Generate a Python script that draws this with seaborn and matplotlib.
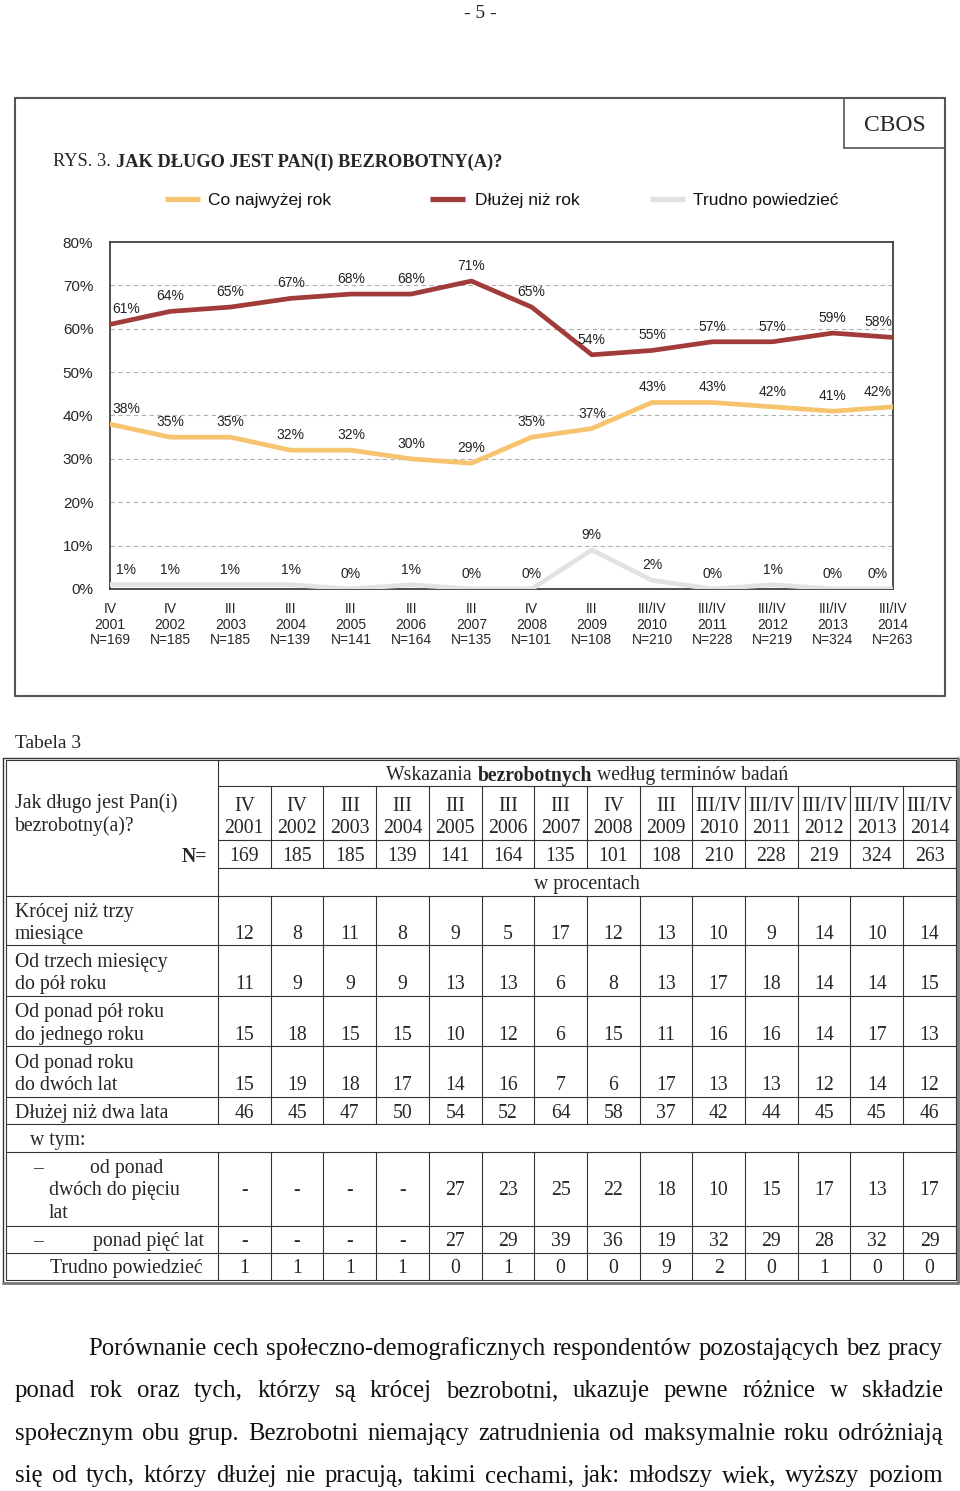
import numpy as np
import pandas as pd
import seaborn as sns
import matplotlib
matplotlib.use("Agg")
import matplotlib.pyplot as plt
from matplotlib.lines import Line2D

# ---- chart data (RYS. 3) ----
periods = ["IV", "IV", "III", "III", "III", "III", "III", "IV", "III",
           "III/IV", "III/IV", "III/IV", "III/IV", "III/IV"]
years = ["2001", "2002", "2003", "2004", "2005", "2006", "2007",
         "2008", "2009", "2010", "2011", "2012", "2013", "2014"]
n_sizes = [169, 185, 185, 139, 141, 164, 135, 101, 108, 210, 228, 219, 324, 263]
short_term = [38, 35, 35, 32, 32, 30, 29, 35, 37, 43, 43, 42, 41, 42]
long_term = [61, 64, 65, 67, 68, 68, 71, 65, 54, 55, 57, 57, 59, 58]
dont_know = [1, 1, 1, 1, 0, 1, 0, 0, 9, 2, 0, 1, 0, 0]
series_names = ["Co najwyżej rok", "Dłużej niż rok", "Trudno powiedzieć"]
series_colors = ["#F6C46E", "#A23C3A", "#E2E2E2"]

# ---- table data (Tabela 3) ----
row_labels = [
    ["Krócej niż trzy", "miesiące"],
    ["Od trzech miesięcy", "do pół roku"],
    ["Od ponad pół roku", "do jednego roku"],
    ["Od ponad roku", "do dwóch lat"],
    ["Dłużej niż dwa lata"],
]
t_under3m = [12, 8, 11, 8, 9, 5, 17, 12, 13, 10, 9, 14, 10, 14]
t_3to6m = [11, 9, 9, 9, 13, 13, 6, 8, 13, 17, 18, 14, 14, 15]
t_6to12m = [15, 18, 15, 15, 10, 12, 6, 15, 11, 16, 16, 14, 17, 13]
t_1to2y = [15, 19, 18, 17, 14, 16, 7, 6, 17, 13, 13, 12, 14, 12]
t_over2y = [46, 45, 47, 50, 54, 52, 64, 58, 37, 42, 44, 45, 45, 46]
t_2to5y = ["-", "-", "-", "-", 27, 23, 25, 22, 18, 10, 15, 17, 13, 17]
t_over5y = ["-", "-", "-", "-", 27, 29, 39, 36, 19, 32, 29, 28, 32, 29]
t_dontknow = [1, 1, 1, 1, 0, 1, 0, 0, 9, 2, 0, 1, 0, 0]

paragraph = [
    "Porównanie cech społeczno-demograficznych respondentów pozostających bez pracy",
    "ponad rok oraz tych, którzy są krócej bezrobotni, ukazuje pewne różnice w składzie",
    "społecznym obu grup. Bezrobotni niemający zatrudnienia od maksymalnie roku odróżniają",
    "się od tych, którzy dłużej nie pracują, takimi cechami, jak: młodszy wiek, wyższy poziom",
]

sns.set_style("white")
SANS = ["Liberation Sans Narrow", "Liberation Sans", "DejaVu Sans"]
SERIF = ["Liberation Serif", "DejaVu Serif"]
plt.rcParams["font.family"] = SANS

W, H = 960, 1491
fig = plt.figure(figsize=(9.6, 14.91), dpi=100)
renderer = fig.canvas.get_renderer()


def text(x, y, s, **kw):
    kw.setdefault("va", "center_baseline")
    return fig.text(x / W, 1 - y / H, s, **kw)


def hline(x0, x1, y, lw=0.8, color="#333333"):
    fig.add_artist(Line2D([x0 / W, x1 / W], [1 - y / H] * 2, lw=lw, color=color))


def vline(x, y0, y1, lw=0.8, color="#333333"):
    fig.add_artist(Line2D([x / W] * 2, [1 - y0 / H, 1 - y1 / H], lw=lw, color=color))


def measure(s, **kw):
    t = fig.text(0, 0, s, **kw)
    w = t.get_window_extent(renderer).width
    t.remove()
    return w


def rich(x, y, parts, ha="left", **kw):
    gap = measure("a a", **kw) - measure("aa", **kw)
    widths = [measure(s, fontweight=fw, **kw) for s, fw in parts]
    total = sum(widths) + gap * (len(parts) - 1)
    cx = x - total / 2 if ha == "center" else x
    for (s, fw), w in zip(parts, widths):
        text(cx, y, s, fontweight=fw, ha="left", **kw)
        cx += w + gap


# ---- page number ----
text(480, 11, "- 5 -", family=SERIF, fontsize=14, ha="center")

# ---- chart frame ----
box_c = "#555555"
hline(15, 945, 98, lw=1.5, color=box_c)
hline(15, 945, 696, lw=1.5, color=box_c)
vline(15, 98, 696, lw=1.5, color=box_c)
vline(945, 98, 696, lw=1.5, color=box_c)
vline(844, 98, 148, lw=1.2, color=box_c)
hline(844, 945, 148, lw=1.2, color=box_c)
text(895, 123, "CBOS", family=SERIF, fontsize=17, ha="center")

rich(53, 160, [("RYS. 3.", "normal"), ("JAK DŁUGO JEST PAN(I) BEZROBOTNY(A)?", "bold")],
     family=SERIF, fontsize=13.2)

# legend
for (x0, xt), name, col in zip([(165, 208), (430, 475), (650, 693)], series_names, series_colors):
    fig.add_artist(Line2D([x0 / W, (x0 + 35) / W], [1 - 199 / H] * 2, lw=3.8,
                          color=col, solid_capstyle="butt"))
    text(xt, 199, name, fontsize=12.5, ha="left", color="#111111")

# ---- line chart ----
ax = fig.add_axes([110 / W, 1 - 589 / H, 783 / W, 347 / H])
df = pd.DataFrame({
    "idx": list(range(len(years))) * 3,
    "value": short_term + long_term + dont_know,
    "series": sum([[s] * len(years) for s in series_names], []),
})
sns.lineplot(data=df, x="idx", y="value", hue="series", hue_order=series_names[::-1],
             palette=dict(zip(series_names, series_colors)), linewidth=3.4,
             legend=False, ax=ax, zorder=3)
ax.set_xlim(0, len(years) - 1)
ax.set_ylim(0, 80)
for v in range(10, 80, 10):
    ax.axhline(v, ls=(0, (4, 3)), color="#B0B0B0", lw=0.8, zorder=1)
ax.set_yticks(range(0, 81, 10))
ax.set_yticklabels([f"{v}%" for v in range(0, 81, 10)], fontsize=11)
ax.set_xticks(range(len(years)))
ax.set_xticklabels([f"{p}\n{y}\nN={n}" for p, y, n in zip(periods, years, n_sizes)],
                   fontsize=10, linespacing=1.12)
ax.tick_params(axis="y", length=0, pad=12)
ax.tick_params(axis="x", length=0, pad=9.5)
ax.set_xlabel("")
ax.set_ylabel("")
for sp in ax.spines.values():
    sp.set_color("#404040")
    sp.set_linewidth(1.3)

last = len(years) - 1
for vals in (long_term, short_term, dont_know):
    for i, v in enumerate(vals):
        dx = 16 if i == 0 else (-15 if i == last else 0)
        ax.annotate(f"{v}%", (i, v), xytext=(dx, 15), textcoords="offset pixels",
                    ha="center", va="center", fontsize=10, color="#222222")

# ---- table ----
text(15, 741, "Tabela 3", family=SERIF, fontsize=14, ha="left")
TFS = 14.2
col0, col_w = 218, 52.7
right = col0 + col_w * len(years)
cx = [col0 + (k + 0.5) * col_w for k in range(len(years))]

# borders
hline(2.5, right + 2, 757.5, lw=1.0)
vline(2.5, 757.5, 1282.5, lw=1.0)
hline(2.5, right + 2, 1282.5, lw=2.0, color="#777777")
vline(right + 2, 757.5, 1282.5, lw=2.0, color="#777777")
hline(5.5, right, 760.5, lw=0.8)
hline(5.5, right, 1279.5, lw=0.8)
vline(5.5, 760.5, 1279.5, lw=0.8)
vline(right, 760.5, 1279.5, lw=0.8)

for y in (786, 840, 868):
    hline(col0, right, y)
for y in (896, 945, 996, 1046, 1097, 1124, 1152, 1226, 1253):
    hline(5.5, right, y)
vline(col0, 760.5, 1124)
vline(col0, 1152, 1279.5)
for k in range(1, len(years)):
    x = col0 + k * col_w
    vline(x, 786, 868)
    vline(x, 896, 1124)
    vline(x, 1152, 1279.5)

rich((col0 + right) / 2, 773,
     [("Wskazania", "normal"), ("bezrobotnych", "bold"), ("według terminów badań", "normal")],
     ha="center", family=SERIF, fontsize=TFS)
text((col0 + right) / 2, 882, "w procentach", family=SERIF, fontsize=TFS, ha="center")
text(15, 801, "Jak długo jest Pan(i)", family=SERIF, fontsize=TFS, ha="left")
text(15, 824, "bezrobotny(a)?", family=SERIF, fontsize=TFS, ha="left")
text(207, 854, "N=", family=SERIF, fontsize=TFS, ha="right", fontweight="bold")

for k in range(len(years)):
    text(cx[k], 804, periods[k], family=SERIF, fontsize=TFS, ha="center")
    text(cx[k], 826, years[k], family=SERIF, fontsize=TFS, ha="center")
    text(cx[k], 854, str(n_sizes[k]), family=SERIF, fontsize=TFS, ha="center")

row_vals = [t_under3m, t_3to6m, t_6to12m, t_1to2y, t_over2y]
row_ys = [(910, 932), (960, 982), (1010, 1033), (1061, 1083), (1111,)]
for lab, vals, ys in zip(row_labels, row_vals, row_ys):
    for line, y in zip(lab, ys):
        text(15, y, line, family=SERIF, fontsize=TFS, ha="left")
    for k, v in enumerate(vals):
        text(cx[k], ys[-1], str(v), family=SERIF, fontsize=TFS, ha="center")

text(30, 1138, "w tym:", family=SERIF, fontsize=TFS, ha="left")
text(33, 1166, "–", family=SERIF, fontsize=TFS, ha="left")
text(90, 1166, "od ponad", family=SERIF, fontsize=TFS, ha="left")
text(49, 1188, "dwóch do pięciu", family=SERIF, fontsize=TFS, ha="left")
text(49, 1211, "lat", family=SERIF, fontsize=TFS, ha="left")
text(33, 1239, "–", family=SERIF, fontsize=TFS, ha="left")
text(204, 1239, "ponad pięć lat", family=SERIF, fontsize=TFS, ha="right")
text(50, 1266, "Trudno powiedzieć", family=SERIF, fontsize=TFS, ha="left")
for k in range(len(years)):
    text(cx[k], 1188, str(t_2to5y[k]), family=SERIF, fontsize=TFS, ha="center")
    text(cx[k], 1239, str(t_over5y[k]), family=SERIF, fontsize=TFS, ha="center")
    text(cx[k], 1266, str(t_dontknow[k]), family=SERIF, fontsize=TFS, ha="center")

# ---- justified paragraph ----
starts = [88, 15, 15, 15]
baselines = [1355, 1397, 1440, 1482]
x_end = 943
base = 16
sp_w = measure("a a", family=SERIF, fontsize=base) - measure("aa", family=SERIF, fontsize=base)
ratios = []
for line, x0 in zip(paragraph, starts):
    words = line.split()
    nat = sum(measure(w, family=SERIF, fontsize=base) for w in words) + sp_w * (len(words) - 1)
    ratios.append((x_end - x0) / nat)
PFS = base * min(min(ratios) * 0.995, 1.15)
for line, x0, yb in zip(paragraph, starts, baselines):
    words = line.split()
    ws = [measure(w, family=SERIF, fontsize=PFS) for w in words]
    gap = (x_end - x0 - sum(ws)) / (len(words) - 1)
    x = x0
    for w, wd in zip(words, ws):
        text(x, yb, w, family=SERIF, fontsize=PFS, ha="left", va="baseline", color="#111111")
        x += wd + gap

fig.savefig("out.png", dpi=100)
